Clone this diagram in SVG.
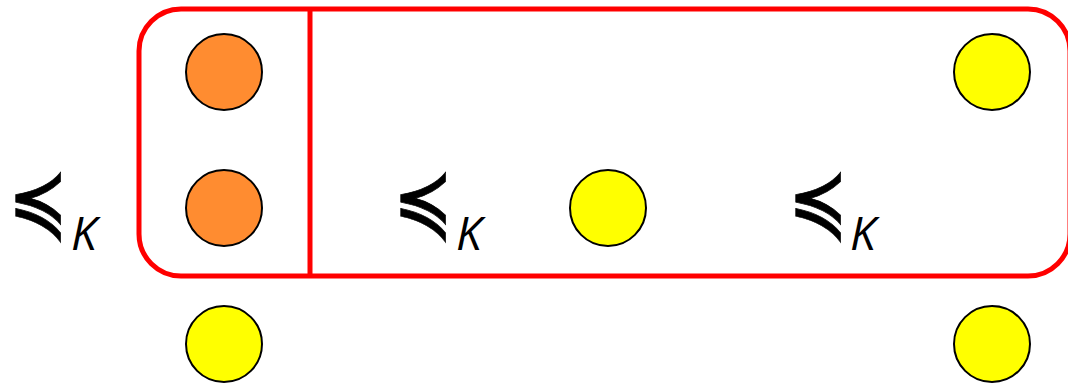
<svg xmlns="http://www.w3.org/2000/svg" width="1068" height="383" viewBox="0 0 1068 383">
<style>
.orange{fill:#FF8C30;stroke:#000;stroke-width:2}
.yellow{fill:#FFFF00;stroke:#000;stroke-width:2}
.box{fill:none;stroke:#FF0000;stroke-width:5}
.rel{font-family:"DejaVu Sans",sans-serif;font-size:72px;fill:#000;stroke:#000;stroke-width:0.5}
.sub{font-family:"Open Sans",sans-serif;font-style:italic;font-size:46px;fill:#000}
</style>
<g id="frame">
<rect class="box" x="139" y="9" width="931" height="267" rx="42" ry="42"/>
<line class="box" x1="310" y1="9" x2="310" y2="276"/>
</g>
<g id="n1"><circle class="orange" cx="224" cy="72" r="38"/></g>
<g id="n2"><circle class="orange" cx="224" cy="208" r="38"/></g>
<g id="n3"><circle class="yellow" cx="224" cy="344" r="38"/></g>
<g id="n4"><circle class="yellow" cx="608" cy="208" r="38"/></g>
<g id="n5"><circle class="yellow" cx="992" cy="72" r="38"/></g>
<g id="n6"><circle class="yellow" cx="992" cy="344" r="38"/></g>
<g id="labels">
<text class="rel" transform="translate(8,233) scale(1,1.27)">≼</text><text class="sub" x="71" y="250">K</text>
<text class="rel" transform="translate(393,233) scale(1,1.27)">≼</text><text class="sub" x="456" y="250">K</text>
<text class="rel" transform="translate(788,233) scale(1,1.27)">≼</text><text class="sub" x="850" y="250">K</text>
</g>
<g id="connectors"/>
</svg>
